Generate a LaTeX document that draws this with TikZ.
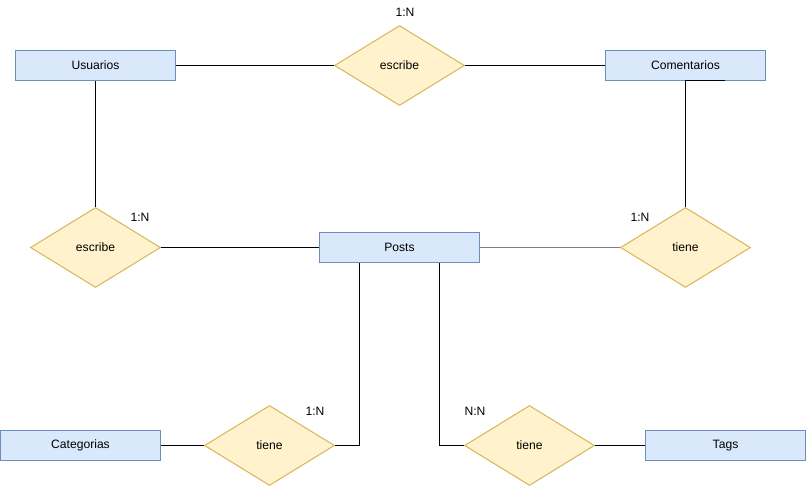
\documentclass[tikz,border=0pt]{standalone}
\usepackage{fontspec}
\setmainfont{Liberation Sans}
\usetikzlibrary{shapes.geometric}
\definecolor{entfill}{HTML}{DAE8FC}
\definecolor{entdraw}{HTML}{6C8EBF}
\definecolor{relfill}{HTML}{FFF2CC}
\definecolor{reldraw}{HTML}{D6B656}
\definecolor{linkgray}{HTML}{808080}
\tikzset{
  entity/.style={
    shape = rectangle,
    draw = entdraw,
    fill = entfill,
    line width = 0.57pt,
    minimum width = 3.2cm,
    minimum height = 0.6cm,
    inner sep = 0pt
  },
  relation/.style={
    shape = diamond,
    draw = reldraw,
    fill = relfill,
    line width = 0.57pt,
    aspect = 1.625,
    minimum width = 2.6cm,
    minimum height = 1.6cm,
    inner sep = 0pt
  },
  card/.style={
    inner sep = 0pt
  },
  link/.style={
    line width = 0.57pt
  },
  every node/.style = {
    font=\fontsize{6.9}{8}\selectfont
  }
}

\begin{document}
\begin{tikzpicture}[x=0.02cm,y=-0.02cm]
\useasboundingbox (0,0) rectangle (806,486);
% entidades
\node[entity] (usu) at (95.5,65.5) {Usuarios};
\node[entity] (com) at (685.5,65.5) {Comentarios};
\node[entity] (pos) at (399.5,247.5) {Posts};
\node[entity] (cat) at (80.5,445.5) {Categorias};
\node[entity] (tag) at (725.5,445.5) {Tags};
% relaciones
\node[relation] (escA) at (399.5,65.5) {escribe};
\node[relation] (escB) at (95.5,247.5) {escribe};
\node[relation] (tieA) at (685.5,247.5) {tiene};
\node[relation] (tieB) at (269.5,445.5) {tiene};
\node[relation] (tieC) at (529.5,445.5) {tiene};
% cardinalidades
\node[card] (cA) at (405,12) {1:N};
\node[card] (cB) at (140,217) {1:N};
\node[card] (cC) at (640,217) {1:N};
\node[card] (cD) at (315,411) {1:N};
\node[card] (cE) at (475,411) {N:N};
% conexiones
\draw[link] (usu.east) -- (escA.west);
\draw[link] (escA.east) -- (com.west);
\draw[link] (usu.south) -- (escB.north);
\draw[link] (escB.east) -- (pos.west);
\draw[link] ([xshift=0.8cm]com.south) -- (com.south) -- (tieA.north);
\draw[link, linkgray] (pos.east) -- (tieA.west);
\draw[link] ([xshift=-0.8cm]pos.south) |- (tieB.east);
\draw[link] ([xshift=0.8cm]pos.south) |- (tieC.west);
\draw[link] (cat.east) -- (tieB.west);
\draw[link] (tieC.east) -- (tag.west);
\end{tikzpicture}
\end{document}
